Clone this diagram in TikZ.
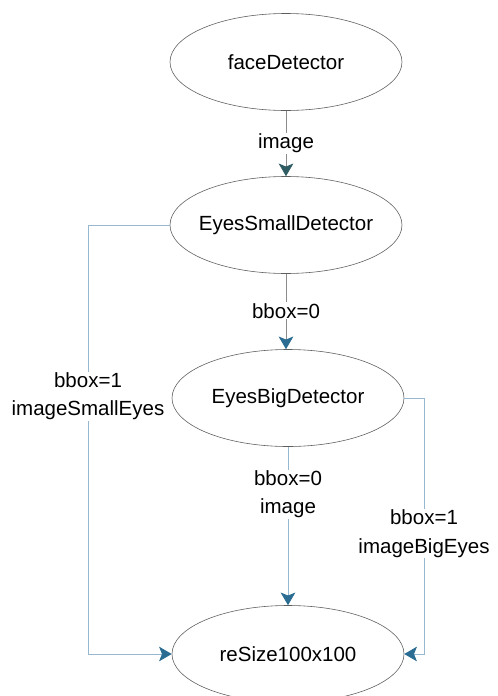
\documentclass[tikz,border=0pt]{standalone}
\usepackage{fontspec}
\setmainfont{Liberation Sans}
\usepackage{xcolor}
\usepackage{tikz}
\usetikzlibrary{shapes.geometric}
\usetikzlibrary{arrows.meta}
\definecolor{edgegray}{HTML}{5E5E5E}
\definecolor{linegray}{HTML}{8C8C8C}
\definecolor{lineblue}{HTML}{96B8D0}
\definecolor{tipblue}{HTML}{2B6C92}
\definecolor{tipteal}{HTML}{2F5C62}

\begin{document}
\begin{tikzpicture}[x=0.3mm, y=-0.3mm,
		font=\fontsize{17.5}{24}\selectfont,
		det/.style={ellipse, draw=edgegray, line width=0.5pt, inner ysep=0pt, inner xsep=-12mm, minimum width=232*0.3mm, minimum height=97*0.3mm},
		lbl/.style={fill=white, inner sep=1pt, align=center},
		flow/.style={line width=0.7pt, -{Stealth[length=3.8mm, width=4.4mm, inset=0.9mm, color=tipblue]}}]
			%frame
			\useasboundingbox (0,0) rectangle (498,696);
			%elements
			\node at (286,62) (face) [det] {faceDetector};
			\node at (286,225) (small) [det] {EyesSmallDetector};
			\node at (288,398) (big) [det] {EyesBigDetector};
			\node at (288,654) (resize) [det] {reSize100x100};
			%corners of the side paths
			\coordinate (lefttop) at (88,225);
			\coordinate (leftbot) at (88,654);
			\coordinate (righttop) at (424,398);
			\coordinate (rightbot) at (424,654);

			% straight paths
			\draw [flow, draw=linegray, -{Stealth[length=3.8mm, width=4.4mm, inset=0.9mm, color=tipteal]}] (face.south) -- node [lbl, pos=0.5] {image} (small.north);
			\draw [flow, draw=linegray] (small.south) -- node [lbl, pos=0.49] {bbox=0} (small.south |- big.north);
			\draw [flow, draw=lineblue] (big.south) -- node [lbl, pos=0.3] {bbox=0\\image} (resize.north);

			% side paths
			\draw [flow, draw=lineblue] (small.west) -- (lefttop) -- node [lbl, pos=0.4] {bbox=1\\imageSmallEyes} (leftbot) -- (resize.west);
			\draw [flow, draw=lineblue] (big.east) -- (righttop) -- node [lbl, pos=0.53] {bbox=1\\imageBigEyes} (rightbot) -- (resize.east);
		\end{tikzpicture}
\end{document}
